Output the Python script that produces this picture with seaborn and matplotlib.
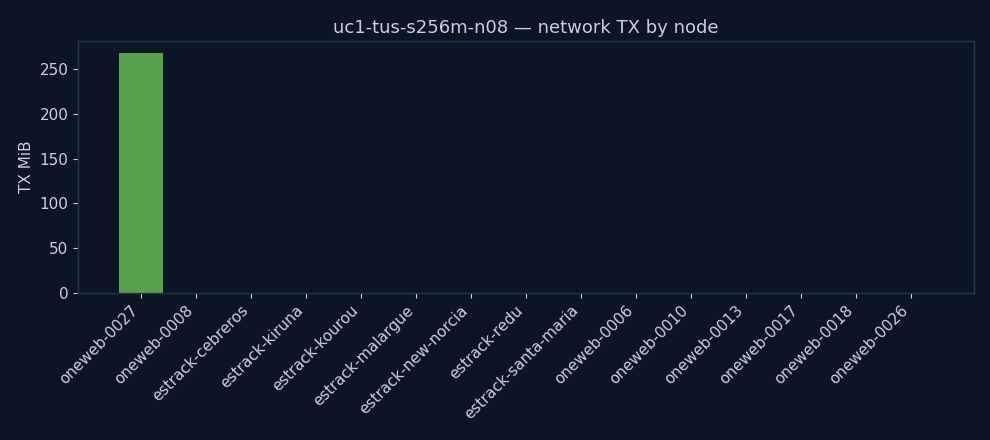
import matplotlib
matplotlib.use("Agg")
import matplotlib.pyplot as plt
import seaborn as sns
import pandas as pd

# Node names and TX volume (MiB)
nodes = [
    "oneweb-0027", "oneweb-0008", "estrack-cebreros", "estrack-kiruna",
    "estrack-kourou", "estrack-malargue", "estrack-new-norcia", "estrack-redu",
    "estrack-santa-maria", "oneweb-0006", "oneweb-0010", "oneweb-0013",
    "oneweb-0017", "oneweb-0018", "oneweb-0026",
]
tx_mib = [268, 0, 0, 0, 0, 0, 0, 0, 0, 0, 0, 0, 0, 0, 0]

bg = "#0b1526"
fg = "#c8d0dc"
edge = "#26344a"
bar_color = "#59a14f"

sns.set_theme(style="dark")
plt.rcParams["font.family"] = ["DejaVu Sans"]

df = pd.DataFrame({"node": nodes, "tx": tx_mib})

fig, ax = plt.subplots(figsize=(9.9, 4.4), dpi=100)
fig.patch.set_facecolor(bg)
ax.set_facecolor(bg)

sns.barplot(data=df, x="node", y="tx", color=bar_color, saturation=1,
            width=0.8, linewidth=0, ax=ax)

ax.set_xlim(-1.14, len(nodes) - 1 + 1.14)
ax.set_ylim(0, max(tx_mib) * 1.05)

ax.set_title("uc1-tus-s256m-n08 — network TX by node", color=fg, fontsize=13)
ax.set_xlabel("")
ax.set_ylabel("TX MiB", color=fg, fontsize=11)
ax.tick_params(axis="both", colors=fg, labelsize=11, length=3.5, width=0.8,
               bottom=True, left=True)
plt.setp(ax.get_xticklabels(), rotation=45, ha="right")
ax.grid(False)
for s in ax.spines.values():
    s.set_color(edge)
    s.set_linewidth(1)

fig.subplots_adjust(left=0.079, right=0.984, top=0.907, bottom=0.334)
fig.savefig("out.png", facecolor=bg)
